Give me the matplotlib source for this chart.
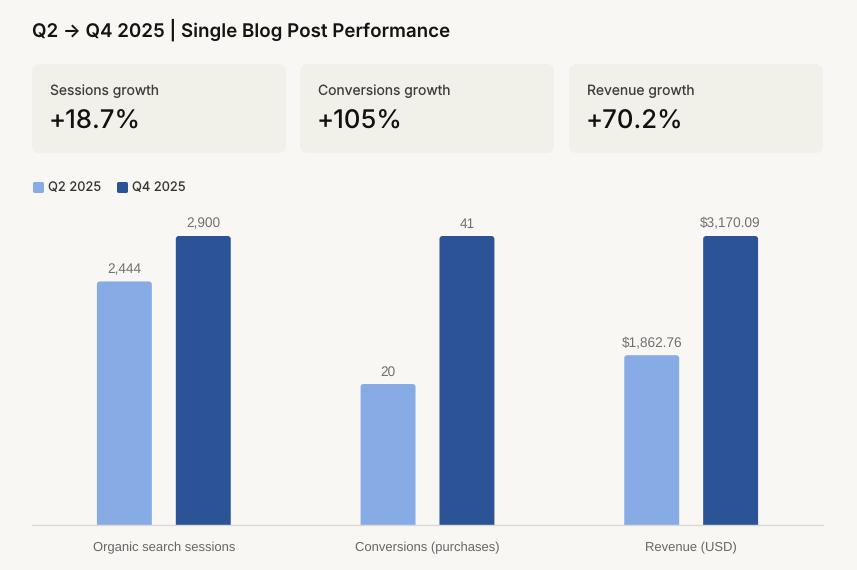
import numpy as np
import matplotlib
matplotlib.use("Agg")
import matplotlib.pyplot as plt
from matplotlib.patches import FancyBboxPatch

# -----------------------------
# Data
# -----------------------------
categories = ["Organic search sessions", "Conversions (purchases)", "Revenue (USD)"]
q2_values = [2444, 20, 1862.76]
q4_values = [2900, 41, 3170.09]
q2_labels = ["2,444", "20", "$1,862.76"]
q4_labels = ["2,900", "41", "$3,170.09"]
series_names = ["Q2 2025", "Q4 2025"]

card_titles = ["Sessions growth", "Conversions growth", "Revenue growth"]
card_values = ["+18.7%", "+105%", "+70.2%"]

title = "Q2 \u2192 Q4 2025 | Single Blog Post Performance"

# -----------------------------
# Style
# -----------------------------
plt.rcParams["text.hinting"] = "no_hinting"
BG = "#F8F7F3"
CARD = "#F1F0E9"
C_Q2 = "#87ACE5"
C_Q4 = "#2B5396"
UI_FONT = ["Inter", "DejaVu Sans"]
NUM_FONT = ["Liberation Sans", "DejaVu Sans"]

W, H = 857, 570
fig = plt.figure(figsize=(W / 100, H / 100), dpi=100, facecolor=BG)


def fx(px):
    return px / W


def fy(py):
    return 1 - py / H


# title
fig.text(fx(32), fy(30), title, family=UI_FONT, fontsize=13.5, fontweight="semibold",
         color="#141414", va="center", ha="left")

# KPI cards
card_x = [32, 300, 569]
card_w = 254
for x0, lab, val in zip(card_x, card_titles, card_values):
    box = FancyBboxPatch((fx(x0), fy(153)), fx(card_w), fy(64) - fy(153),
                         boxstyle="round,pad=0,rounding_size=0.009",
                         mutation_aspect=W / H,
                         transform=fig.transFigure, facecolor=CARD, edgecolor="none")
    fig.patches.append(box)
    fig.text(fx(x0 + 18), fy(91), lab, family=UI_FONT, fontsize=10, color="#3d3d3d",
             va="center", ha="left")
    fig.text(fx(x0 + 17), fy(122), val, family=UI_FONT, fontsize=18.5, fontweight="medium",
             color="#111111", va="center", ha="left")

# legend
for sx, name, col in zip([33, 117], series_names, [C_Q2, C_Q4]):
    sq = FancyBboxPatch((fx(sx), fy(193)), fx(11), fy(182) - fy(193),
                        boxstyle="round,pad=0,rounding_size=0.002",
                        mutation_aspect=W / H,
                        transform=fig.transFigure, facecolor=col, edgecolor="none")
    fig.patches.append(sq)
    fig.text(fx(sx + 15), fy(188), name, family=UI_FONT, fontsize=9.3, color="#333333",
             va="center", ha="left")

# -----------------------------
# Bars (each group scaled to its own max)
# -----------------------------
ax = fig.add_axes([fx(32), fy(525), fx(823 - 32), fy(206) - fy(525)])
ax.set_facecolor(BG)

q2 = np.array(q2_values, dtype=float)
q4 = np.array(q4_values, dtype=float)
gmax = np.maximum(q2, q4)
x = np.arange(len(categories))
bw = 55 / 264
off = 39.5 / 264

ax.set_xlim(-0.5, len(categories) - 0.5)
ax.set_ylim(0, 319 / 289)

bars_q2 = ax.bar(x - off, q2 / gmax, width=bw, color=C_Q2)
bars_q4 = ax.bar(x + off, q4 / gmax, width=bw, color=C_Q4)

# rounded tops: replace rectangles by rounded boxes with the same geometry
asp = (1 / 289) / (1 / 264)
for bars in (bars_q2, bars_q4):
    for b in bars:
        bx, by = b.get_x(), b.get_y()
        bwid, bh = b.get_width(), b.get_height()
        b.set_visible(False)
        rb = FancyBboxPatch((bx, by - 0.05), bwid, bh + 0.05,
                            boxstyle="round,pad=0,rounding_size=%f" % (3 / 264),
                            mutation_aspect=asp,
                            facecolor=b.get_facecolor(), edgecolor="none")
        ax.add_patch(rb)

for bars, labs in ((bars_q2, q2_labels), (bars_q4, q4_labels)):
    for b, t in zip(bars, labs):
        ax.annotate(t, (b.get_x() + b.get_width() / 2, b.get_height()),
                    xytext=(0, 4), textcoords="offset points", ha="center", va="bottom",
                    family=NUM_FONT, fontsize=9.8, color="#707070")

ax.set_xticks(x)
ax.set_xticklabels(categories, family=NUM_FONT, fontsize=9.4, color="#666666")
ax.tick_params(axis="x", length=0, pad=12)
ax.set_yticks([])
for s in ["top", "right", "left"]:
    ax.spines[s].set_visible(False)
ax.spines["bottom"].set_color("#DCDAD5")
ax.spines["bottom"].set_linewidth(1.0)
ax.spines["bottom"].set_zorder(5)

fig.savefig("out.png", dpi=100, facecolor=BG)
